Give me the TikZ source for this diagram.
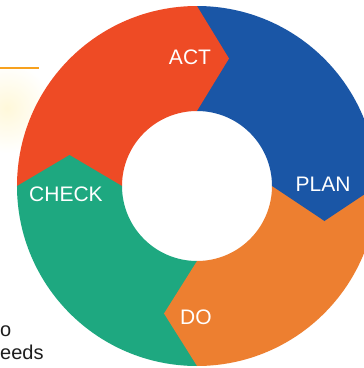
\documentclass[tikz,border=0pt]{standalone}
\usepackage{fontspec}
\setmainfont{Liberation Sans}
\definecolor{actred}{RGB}{238,75,37}
\definecolor{planblue}{RGB}{26,86,166}
\definecolor{doorange}{RGB}{237,127,48}
\definecolor{checkgreen}{RGB}{30,168,128}
\definecolor{lineorange}{RGB}{247,161,30}
\definecolor{glow}{RGB}{255,248,218}
\definecolor{bodytext}{RGB}{30,30,30}
\tikzset{
  phase/.style={text=white, font=\fontsize{21}{25}\selectfont, inner sep=0pt},
  bodytxt/.style={text=bodytext, font=\fontsize{20}{24}\selectfont, inner sep=0pt, anchor=base west},
}
\begin{document}
\begin{tikzpicture}[x=1pt,y=1pt]
\useasboundingbox (-197,-182) rectangle (167,186);
\clip (-197,-182) rectangle (167,186);
\fill[white] (-197,-182) rectangle (167,186);
% faint glow
\shade[inner color=glow, outer color=white] (-190,78) circle (45);
% orange rule
\draw[lineorange, line width=2.5pt] (-197,118) -- (-158,118);
% sectors
\fill[actred] (90:180) arc[start angle=90,end angle=180,radius=180] -- (180:75) arc[start angle=180,end angle=90,radius=75] -- cycle;
\fill[planblue] (0:180) arc[start angle=0,end angle=90,radius=180] -- (90:75) arc[start angle=90,end angle=0,radius=75] -- cycle;
\fill[doorange] (-90:180) arc[start angle=-90,end angle=0,radius=180] -- (0:75) arc[start angle=0,end angle=-90,radius=75] -- cycle;
\fill[checkgreen] (180:180) arc[start angle=180,end angle=270,radius=180] -- (270:75) arc[start angle=270,end angle=180,radius=75] -- cycle;
% chevrons
\fill[actred] (-1,179.9) -- (0,179.9) -- (32,127.5) -- (0,75.1) -- (-1,75.1) -- cycle;
\fill[planblue] (179.9,1) -- (179.9,0) -- (127.5,-35) -- (75.1,0) -- (75.1,1) -- cycle;
\fill[doorange] (1,-179.9) -- (0,-179.9) -- (-33,-127.5) -- (0,-75.1) -- (1,-75.1) -- cycle;
\fill[checkgreen] (-179.9,-1) -- (-179.9,0) -- (-127.5,31) -- (-75.1,0) -- (-75.1,-1) -- cycle;
% labels
\node[phase] (act) at (-7,128.5) {ACT};
\node[phase] (plan) at (126,1.5) {PLAN};
\node[phase] (check) at (-131,-8) {CHECK};
\node[phase] (do) at (-1,-131) {DO};
% body text fragments
\node[bodytxt] (txto) at (-197,-150) {o};
\node[bodytxt] (txteeds) at (-197,-173) {eeds};
\end{tikzpicture}
\end{document}
